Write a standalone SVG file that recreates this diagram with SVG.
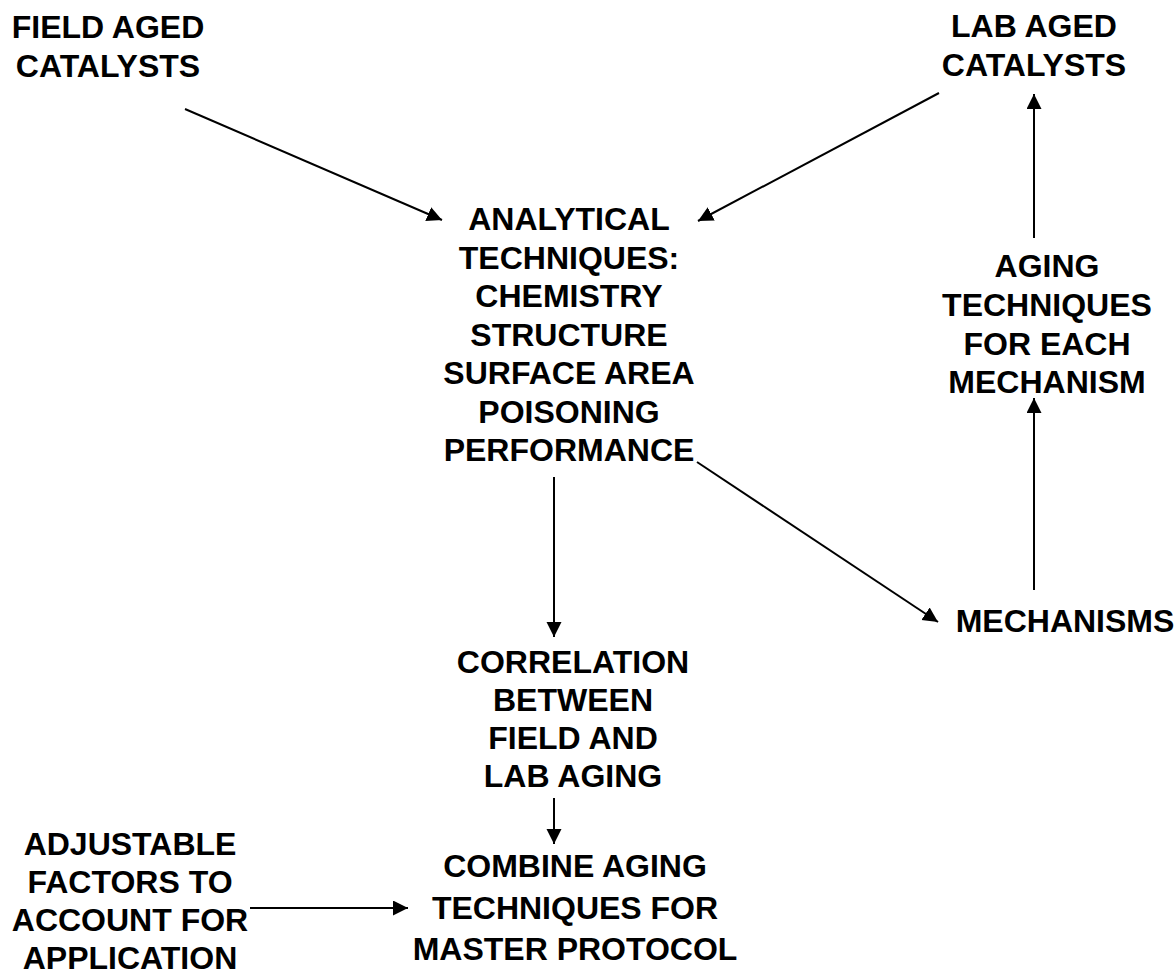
<svg xmlns="http://www.w3.org/2000/svg" width="1176" height="971" viewBox="0 0 1176 971">
<defs>
<style>
text{font-family:"Liberation Sans",Arial,sans-serif;font-weight:bold;font-size:32px;fill:#000;text-anchor:middle}
.c{stroke:#000;stroke-width:2;fill:none}
</style>
<marker id="ah" markerUnits="userSpaceOnUse" markerWidth="16" markerHeight="16" refX="15" refY="7.5" orient="auto">
<path d="M0,0 L15,7.5 L0,15 z" fill="#000"/>
</marker>
</defs>
<rect width="1176" height="971" fill="#fff"/>
<g id="n-field">
<text x="108" y="38">FIELD AGED</text>
<text x="108" y="77">CATALYSTS</text>
</g>
<g id="n-lab">
<text x="1034" y="37">LAB AGED</text>
<text x="1034" y="76">CATALYSTS</text>
</g>
<g id="n-analytical">
<text x="569" y="230">ANALYTICAL</text>
<text x="569" y="268.5">TECHNIQUES:</text>
<text x="569" y="307">CHEMISTRY</text>
<text x="569" y="345.5">STRUCTURE</text>
<text x="569" y="384">SURFACE AREA</text>
<text x="569" y="422.5">POISONING</text>
<text x="569" y="461">PERFORMANCE</text>
</g>
<g id="n-aging">
<text x="1047" y="277">AGING</text>
<text x="1047" y="316">TECHNIQUES</text>
<text x="1047" y="355">FOR EACH</text>
<text x="1047" y="393">MECHANISM</text>
</g>
<g id="n-mechanisms">
<text x="1065" y="632">MECHANISMS</text>
</g>
<g id="n-correlation">
<text x="573" y="673">CORRELATION</text>
<text x="573" y="711">BETWEEN</text>
<text x="573" y="749">FIELD AND</text>
<text x="573" y="787">LAB AGING</text>
</g>
<g id="n-adjustable">
<text x="130" y="855">ADJUSTABLE</text>
<text x="130" y="893">FACTORS TO</text>
<text x="130" y="931">ACCOUNT FOR</text>
<text x="130" y="969">APPLICATION</text>
</g>
<g id="n-combine">
<text x="575" y="877">COMBINE AGING</text>
<text x="575" y="919">TECHNIQUES FOR</text>
<text x="575" y="960">MASTER PROTOCOL</text>
</g>
<g id="connectors">
<line class="c" x1="185" y1="109" x2="442" y2="220" marker-end="url(#ah)"/>
<line class="c" x1="939" y1="93" x2="698" y2="221" marker-end="url(#ah)"/>
<line class="c" x1="1034" y1="238" x2="1034" y2="94" marker-end="url(#ah)"/>
<line class="c" x1="1034" y1="590" x2="1034" y2="398" marker-end="url(#ah)"/>
<line class="c" x1="697" y1="462" x2="938" y2="622" marker-end="url(#ah)"/>
<line class="c" x1="554" y1="477" x2="554" y2="637" marker-end="url(#ah)"/>
<line class="c" x1="554" y1="798" x2="554" y2="844" marker-end="url(#ah)"/>
<line class="c" x1="250" y1="908" x2="408" y2="908" marker-end="url(#ah)"/>
</g>
</svg>
